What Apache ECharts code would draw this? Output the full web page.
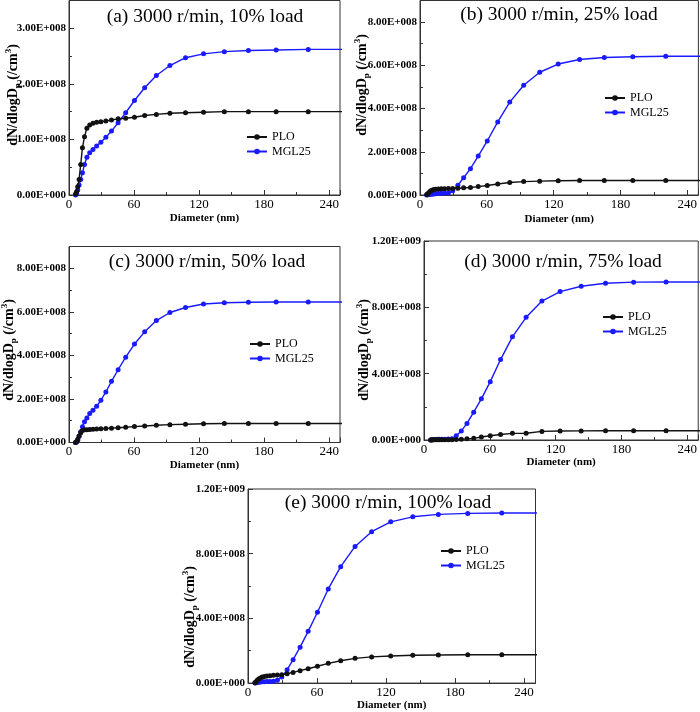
<!DOCTYPE html>
<html><head><meta charset="utf-8">
<script src="https://cdn.jsdelivr.net/npm/echarts@6/dist/echarts.min.js"></script>
<style>html,body{margin:0;padding:0;background:#fff}#c{width:700px;height:712px}</style>
</head><body><div id="c"></div>
<script>
// Particle diameter channels (nm)
const diameters = [6.04,6.98,8.06,9.31,10.8,12.4,14.3,16.5,19.1,22.1,25.5,29.4,34.0,39.2,45.3,52.3,60.4,69.8,80.6,93.1,107.5,124.1,143.3,165.5,191.1,220.7,254.8];
// dN/dlogDp values in units of 1E+008 /cm3
const ploA = [0.02,0.06,0.15,0.28,0.55,0.85,1.05,1.20,1.26,1.29,1.31,1.32,1.33,1.35,1.37,1.38,1.40,1.43,1.45,1.47,1.48,1.49,1.50,1.50,1.50,1.50,1.50];
const mglA = [0.00,0.03,0.09,0.18,0.28,0.40,0.55,0.68,0.76,0.82,0.88,0.95,1.04,1.15,1.30,1.48,1.70,1.93,2.15,2.33,2.47,2.54,2.58,2.60,2.61,2.62,2.62];
const ploB = [0.02,0.06,0.12,0.18,0.22,0.25,0.27,0.28,0.29,0.29,0.30,0.30,0.31,0.33,0.35,0.39,0.44,0.51,0.58,0.62,0.64,0.66,0.67,0.67,0.67,0.67,0.67];
const mglB = [0.00,0.01,0.02,0.03,0.04,0.05,0.06,0.07,0.08,0.08,0.09,0.20,0.45,0.80,1.22,1.80,2.50,3.38,4.30,5.08,5.68,6.06,6.27,6.36,6.40,6.42,6.42];
const ploC = [0.00,0.05,0.15,0.30,0.45,0.55,0.58,0.59,0.60,0.61,0.62,0.63,0.64,0.66,0.68,0.70,0.73,0.76,0.79,0.82,0.84,0.86,0.87,0.87,0.87,0.87,0.87];
const mglC = [0.00,0.02,0.10,0.29,0.49,0.72,0.95,1.13,1.33,1.48,1.66,1.94,2.32,2.81,3.34,3.92,4.52,5.08,5.60,5.97,6.20,6.36,6.42,6.44,6.45,6.45,6.45];
const ploD = [0.00,0.00,0.01,0.01,0.01,0.01,0.01,0.01,0.01,0.02,0.02,0.03,0.05,0.07,0.10,0.18,0.26,0.33,0.40,0.41,0.52,0.54,0.55,0.56,0.56,0.56,0.56];
const mglD = [0.00,0.01,0.02,0.03,0.03,0.04,0.04,0.05,0.05,0.06,0.08,0.25,0.55,1.00,1.68,2.48,3.52,4.85,6.22,7.40,8.38,8.95,9.27,9.45,9.52,9.53,9.53];
const ploE = [0.02,0.08,0.18,0.26,0.32,0.37,0.41,0.44,0.46,0.48,0.50,0.52,0.58,0.66,0.77,0.89,1.04,1.22,1.38,1.53,1.62,1.68,1.72,1.74,1.75,1.75,1.75];
const mglE = [0.00,0.02,0.04,0.06,0.07,0.08,0.09,0.10,0.10,0.12,0.18,0.38,0.82,1.45,2.22,3.20,4.38,5.82,7.20,8.45,9.36,9.97,10.28,10.43,10.49,10.52,10.52];
const panelTitles = ['(a) 3000 r/min, 10% load','(b) 3000 r/min, 25% load','(c) 3000 r/min, 50% load','(d) 3000 r/min, 75% load','(e) 3000 r/min, 100% load'];
const seriesNames = ['PLO','MGL25'];
const xTicks = {min:0, max:250, interval:60};
const yMax = [3.5, 9, 9, 12, 12];       // in 1E+008
const yInterval = [1, 2, 2, 4, 4];      // in 1E+008
const xAxisName = 'Diameter (nm)';

// layout
const grids = [
  {left:69, top:0.5, width:271, height:194.5},
  {left:420, top:0.5, width:279.5, height:194.5},
  {left:69, top:246.5, width:271, height:196},
  {left:424, top:241, width:281, height:199},
  {left:248, top:489, width:287.5, height:194.5}
];
const titlePos = [[205,17],[559,15],[207,262],[563,262],[388,503]];
const legendPos = [[246,131],[604,92],[249,338],[602,311],[440,545]];
const yNamePos = [[13,95],[362,85],[9,350],[364,350],[190,617]];
const xNameGap = [18,19,17,17,13];

const pairs = (ys) => diameters.map((d,i)=>[d, ys[i]]);
const data = [[ploA,mglA],[ploB,mglB],[ploC,mglC],[ploD,mglD],[ploE,mglE]];
const colors = ['#111111','#1a1aff'];
const serif = 'Liberation Serif, Times New Roman, serif';

function sci(v){
  const real = v*1e8;
  if (Math.abs(real) < 1) return '0.00E+000';
  let e = Math.floor(Math.log10(real)+1e-9);
  let m = real/Math.pow(10,e);
  return m.toFixed(2)+'E+'+String(e).padStart(3,'0');
}

const option = {
  animation:false,
  backgroundColor:'#fff',
  title: panelTitles.map((t,i)=>({text:t, left:titlePos[i][0], top:titlePos[i][1], textAlign:'center', textVerticalAlign:'middle', padding:0,
    textStyle:{fontFamily:serif, fontSize:19.5, fontWeight:'normal', color:'#000'}})),
  grid: grids.map(g=>Object.assign({show:true, borderColor:'#333', borderWidth:1, containLabel:false}, g)),
  legend: legendPos.map((p,i)=>({data:seriesNames, orient:'vertical', left:p[0], top:p[1], padding:0, itemGap:2.5, itemWidth:20, itemHeight:7,
    textStyle:{fontFamily:serif, fontSize:12, color:'#000', lineHeight:12}, selectedMode:false})),
  xAxis: grids.map((g,i)=>({type:'value', gridIndex:i, min:xTicks.min, max:xTicks.max, interval:xTicks.interval,
    name:xAxisName, nameLocation:'middle', nameGap:xNameGap[i],
    nameTextStyle:{fontFamily:serif, fontSize:11, fontWeight:'bold', color:'#000'},
    axisLine:{lineStyle:{color:'#333', width:1}},
    axisTick:{inside:true, length:5, lineStyle:{color:'#333'}},
    minorTick:{show:true, splitNumber:2, length:3, lineStyle:{color:'#333'}},
    splitLine:{show:false},
    axisLabel:{fontFamily:serif, fontSize:13, color:'#000', margin:3, showMaxLabel:false}})),
  yAxis: grids.map((g,i)=>({type:'value', gridIndex:i, min:0, max:yMax[i], interval:yInterval[i],
    axisLine:{show:true, lineStyle:{color:'#333', width:1}},
    axisTick:{inside:true, length:5, lineStyle:{color:'#333'}},
    minorTick:{show:true, splitNumber:2, length:3, lineStyle:{color:'#333'}},
    splitLine:{show:false},
    axisLabel:{fontFamily:serif, fontSize:11, fontWeight:'bold', color:'#000', margin:3, formatter:sci, showMaxLabel: (yMax[i] % yInterval[i] === 0)}})),
  graphic: yNamePos.map(p=>({type:'text', x:p[0], y:p[1], rotation:Math.PI/2,
    style:{text:'{a|dN/dlogD}{s|p}{a| (/cm}{t|3}{a|)}', align:'center', verticalAlign:'middle', fill:'#000',
      rich:{a:{fontFamily:serif, fontSize:14, fontWeight:'bold', lineHeight:18, verticalAlign:'middle'},
            s:{fontFamily:serif, fontSize:9, fontWeight:'bold', lineHeight:18, verticalAlign:'bottom'},
            t:{fontFamily:serif, fontSize:9, fontWeight:'bold', lineHeight:18, verticalAlign:'top'}}}})),
  series: []
};
data.forEach((pair,i)=>{
  pair.forEach((ys,k)=>{
    option.series.push({name:seriesNames[k], type:'line', xAxisIndex:i, yAxisIndex:i, data:pairs(ys),
      symbol:'circle', symbolSize:5, showSymbol:true, clip:true, z: k===0?3:2,
      lineStyle:{color:colors[k], width:1.4}, itemStyle:{color:colors[k]}});
  });
});
const chart = echarts.init(document.getElementById('c'), null, {renderer:'canvas'});
chart.setOption(option);
</script></body></html>
